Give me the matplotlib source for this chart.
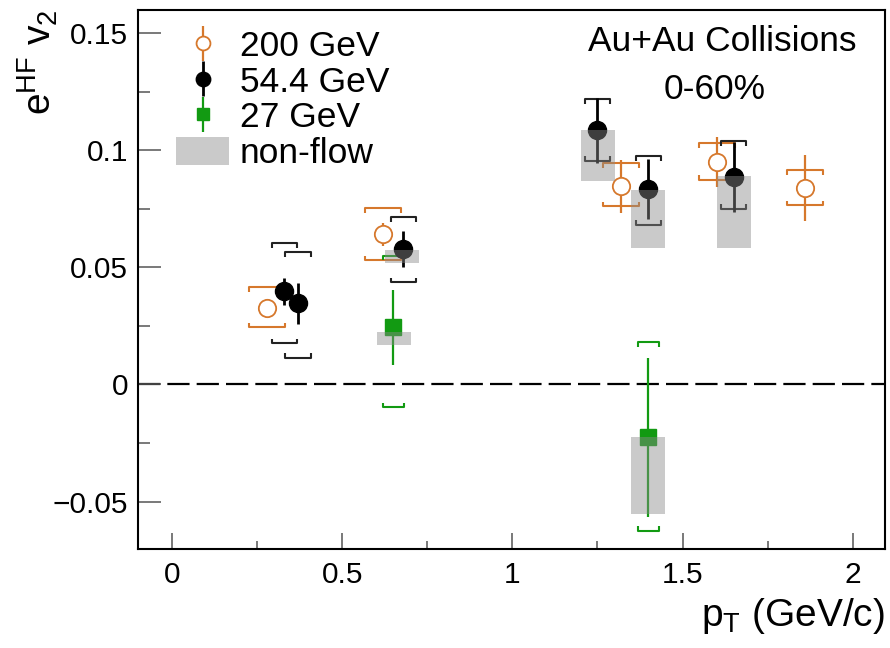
import matplotlib
matplotlib.use("Agg")
import matplotlib.pyplot as plt
import matplotlib.patches as mpatches
from matplotlib.ticker import FixedLocator, MultipleLocator
import numpy as np

plt.rcParams['font.family'] = ['Liberation Sans', 'DejaVu Sans']
plt.rcParams['mathtext.fontset'] = 'custom'
plt.rcParams['mathtext.rm'] = 'Liberation Sans'
plt.rcParams['mathtext.it'] = 'Liberation Sans'
plt.rcParams['mathtext.default'] = 'rm'

# 200 GeV
x_200 = [0.28, 0.62, 1.32, 1.60, 1.86]
y_200 = [0.0325, 0.0640, 0.0846, 0.0949, 0.0838]
stat_200 = [0.0030, 0.0047, 0.0113, 0.0107, 0.0140]
sys_lo_200 = [0.0244, 0.0530, 0.0760, 0.0872, 0.0765]
sys_hi_200 = [0.0415, 0.0752, 0.0944, 0.1030, 0.0915]

# 54.4 GeV
x_54 = [0.33, 0.37, 0.68, 1.25, 1.40, 1.65]
y_54 = [0.0397, 0.0346, 0.0577, 0.1085, 0.0836, 0.0885]
stat_54 = [0.0058, 0.0086, 0.0077, 0.0138, 0.0128, 0.0148]
sys_lo_54 = [0.0175, 0.0115, 0.0436, 0.0953, 0.0680, 0.0748]
sys_hi_54 = [0.0603, 0.0564, 0.0714, 0.1218, 0.0974, 0.1038]

# 27 GeV
x_27 = [0.65, 1.40]
y_27 = [0.0244, -0.0226]
stat_27 = [0.0160, 0.0340]
sys_lo_27 = [-0.0098, -0.0624]
sys_hi_27 = [0.0550, 0.0180]

# non-flow boxes
nf_x = [0.653, 0.677, 1.252, 1.40, 1.65, 1.40]
nf_lo = [0.0167, 0.0517, 0.0868, 0.0581, 0.0581, -0.0551]
nf_hi = [0.0222, 0.0573, 0.1085, 0.0829, 0.0889, -0.0226]

yticks = [-0.05, 0, 0.05, 0.1, 0.15]
ytick_labels = ['\u22120.05', '0', '0.05', '0.1', '0.15']
xticks = [0, 0.5, 1, 1.5, 2]
xtick_labels = ['0', '0.5', '1', '1.5', '2']

c_orange = '#d6782c'
c_green = '#129a12'


def brackets(ax, xs, lo, hi, hw, color, lw=1.5, tip=0.002):
    for x, l, h in zip(xs, lo, hi):
        ax.plot([x - hw, x - hw, x + hw, x + hw], [h - tip, h, h, h - tip],
                color=color, lw=lw, zorder=2, solid_capstyle='butt')
        ax.plot([x - hw, x - hw, x + hw, x + hw], [l + tip, l, l, l + tip],
                color=color, lw=lw, zorder=2, solid_capstyle='butt')


fig = plt.figure(figsize=(8.9, 6.48), dpi=100)
ax = fig.add_axes([0.155, 0.1528, 0.8394, 0.8325])

ax.axhline(0, color='black', lw=1.6, ls=(0, (10, 3.2)), zorder=1)

brackets(ax, x_200, sys_lo_200, sys_hi_200, 0.053, c_orange)
brackets(ax, x_54, sys_lo_54, sys_hi_54, 0.037, '#222222')
brackets(ax, x_27, sys_lo_27, sys_hi_27, 0.031, c_green)

h200 = ax.errorbar(x_200, y_200, yerr=stat_200, fmt='o', ms=12.5, mfc='white',
                   mec=c_orange, mew=1.3, color=c_orange, ecolor=c_orange,
                   elinewidth=1.6, capsize=0, zorder=3)
h54 = ax.errorbar(x_54, y_54, yerr=stat_54, fmt='o', ms=13, mfc='black',
                  mec='black', color='black', ecolor='black',
                  elinewidth=2.0, capsize=0, zorder=3)
h27 = ax.errorbar(x_27, y_27, yerr=stat_27, fmt='s', ms=11.5, mfc=c_green,
                  mec=c_green, color=c_green, ecolor=c_green,
                  elinewidth=1.6, capsize=0, zorder=3)

for x, lo, hi in zip(nf_x, nf_lo, nf_hi):
    ax.add_patch(mpatches.Rectangle((x - 0.05, lo), 0.1, hi - lo,
                                    facecolor='#8a8a8a', edgecolor='none',
                                    alpha=0.45, zorder=4))

nf_handle = mpatches.Patch(facecolor='#8a8a8a', edgecolor='none', alpha=0.45)
ax.legend([h200, h54, h27, nf_handle],
          ['200 GeV', '54.4 GeV', '27 GeV', 'non-flow'],
          loc='upper left', bbox_to_anchor=(0.051, 0.962), frameon=False,
          fontsize=25.5, handlelength=1.5, handleheight=0.85,
          handletextpad=0.3, labelspacing=0.06, borderpad=0,
          borderaxespad=0, markerscale=0.8)

ax.text(0.782, 0.94, 'Au+Au Collisions', transform=ax.transAxes,
        ha='center', va='center', fontsize=25.5)
ax.text(0.772, 0.851, '0-60%', transform=ax.transAxes,
        ha='center', va='center', fontsize=25.5)

ax.set_xlim(-0.1, 2.095)
ax.set_ylim(-0.0702, 0.160)

ax.xaxis.set_major_locator(FixedLocator(xticks))
ax.set_xticklabels(xtick_labels)
ax.xaxis.set_minor_locator(MultipleLocator(0.25))
ax.yaxis.set_major_locator(FixedLocator(yticks))
ax.set_yticklabels(ytick_labels)
ax.yaxis.set_minor_locator(MultipleLocator(0.025))

ax.tick_params(axis='both', which='both', direction='in', color='#555555',
               labelsize=21.5, top=False, right=False)
ax.tick_params(axis='x', which='major', length=11.5, width=1.1, pad=9)
ax.tick_params(axis='x', which='minor', length=5.8, width=1.1)
ax.tick_params(axis='y', which='major', length=16.5, width=1.1, pad=7)
ax.tick_params(axis='y', which='minor', length=8.6, width=1.1)

for s in ax.spines.values():
    s.set_linewidth(1.5)

ax.set_xlabel('$p_T$ (GeV/c)', fontsize=28, loc='right')
ax.xaxis.set_label_coords(1.0, -0.088)
ax.set_ylabel('$e^{HF}$ $v_2$', fontsize=28, loc='top')
ax.yaxis.set_label_coords(-0.104, 1.0)

plt.savefig('out.png', dpi=100)
